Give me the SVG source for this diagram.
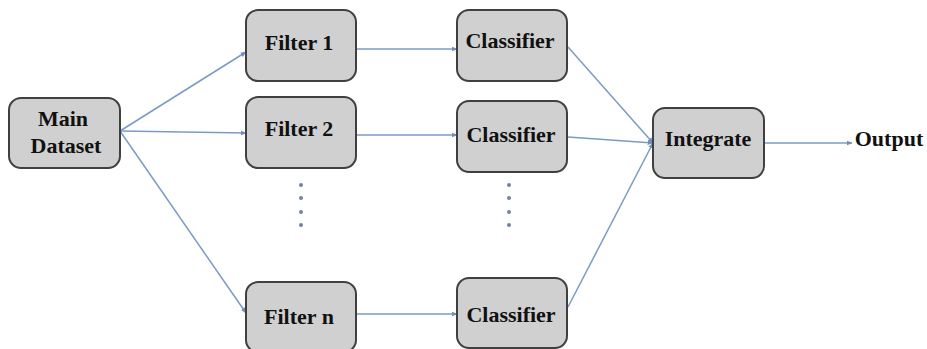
<svg xmlns="http://www.w3.org/2000/svg" width="927" height="349" viewBox="0 0 927 349">
<style>
.box{fill:#d0d0d0;stroke:#404040;stroke-width:2}
.t{font-family:'Liberation Serif','Times New Roman','DejaVu Serif',serif;font-weight:700;font-size:22px;fill:#111;text-anchor:middle}
.c{fill:none;stroke:#7b9bc4;stroke-width:1.5;marker-end:url(#ah)}
.dot{fill:#72839c}
</style>
<defs>
<marker id="ah" viewBox="0 0 10 10" refX="9" refY="5" markerWidth="6" markerHeight="6" orient="auto" markerUnits="userSpaceOnUse">
<path d="M0,1 L10,5 L0,9 z" fill="#6f8fb8"/>
</marker>
</defs>
<rect width="927" height="349" fill="#fff"/>
<g id="connectors">
<line class="c" x1="120" y1="131" x2="246" y2="52"/>
<line class="c" x1="120" y1="131" x2="246" y2="133"/>
<line class="c" x1="120" y1="131" x2="246" y2="313"/>
<line class="c" x1="357" y1="49" x2="457" y2="49"/>
<line class="c" x1="357" y1="135" x2="457" y2="135"/>
<line class="c" x1="357" y1="314" x2="457" y2="314"/>
<line class="c" x1="568" y1="47" x2="653" y2="143"/>
<line class="c" x1="568" y1="137" x2="653" y2="143"/>
<line class="c" x1="568" y1="307" x2="653" y2="143"/>
<line class="c" x1="764" y1="143" x2="852" y2="143"/>
</g>
<g id="dots">
<circle class="dot" cx="301" cy="185" r="2"/>
<circle class="dot" cx="301" cy="198" r="2"/>
<circle class="dot" cx="301" cy="212" r="2"/>
<circle class="dot" cx="301" cy="225" r="2"/>
<circle class="dot" cx="509" cy="185" r="2"/>
<circle class="dot" cx="509" cy="198" r="2"/>
<circle class="dot" cx="509" cy="212" r="2"/>
<circle class="dot" cx="509" cy="225" r="2"/>
</g>
<g id="main">
<rect class="box" x="9" y="98" width="111" height="70" rx="12"/>
<text class="t" x="63" y="126">Main</text>
<text class="t" x="66" y="153">Dataset</text>
</g>
<g id="filter1">
<rect class="box" x="246" y="10" width="110" height="71" rx="12"/>
<text class="t" x="299" y="50">Filter 1</text>
</g>
<g id="filter2">
<rect class="box" x="246" y="97" width="110" height="71" rx="12"/>
<text class="t" x="299" y="136">Filter 2</text>
</g>
<g id="filtern">
<rect class="box" x="246" y="282" width="110" height="70" rx="12"/>
<text class="t" x="299" y="324">Filter n</text>
</g>
<g id="classifier1">
<rect class="box" x="457" y="10" width="110" height="71" rx="12"/>
<text class="t" x="510" y="48">Classifier</text>
</g>
<g id="classifier2">
<rect class="box" x="457" y="101" width="110" height="71" rx="12"/>
<text class="t" x="511" y="142">Classifier</text>
</g>
<g id="classifier3">
<rect class="box" x="457" y="278" width="110" height="70" rx="12"/>
<text class="t" x="511" y="322">Classifier</text>
</g>
<g id="integrate">
<rect class="box" x="653" y="108" width="111" height="70" rx="12"/>
<text class="t" x="708" y="146">Integrate</text>
</g>
<g id="output">
<text class="t" x="889" y="146">Output</text>
</g>
</svg>
